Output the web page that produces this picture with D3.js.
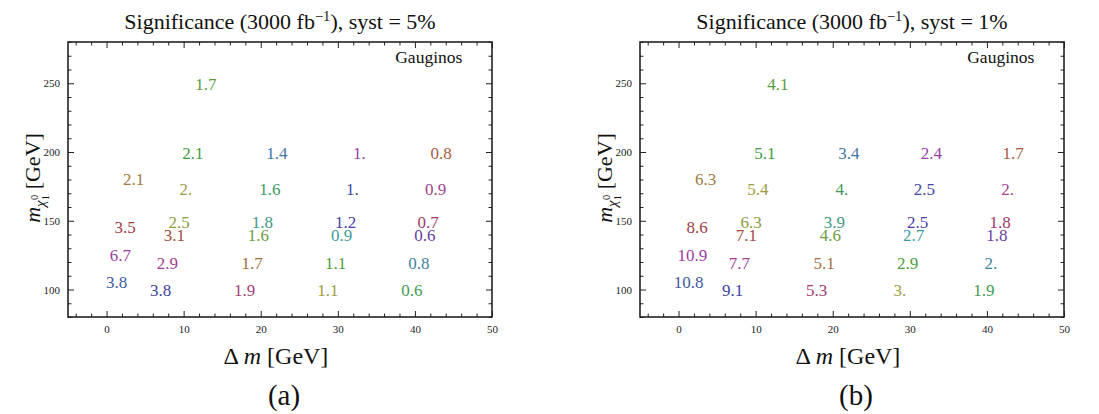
<!DOCTYPE html>
<html>
<head>
<meta charset="utf-8">
<script src="https://cdn.jsdelivr.net/npm/d3@7"></script>
<style>
  html, body { margin: 0; padding: 0; background: #fff; }
  svg text { font-family: "Liberation Serif", "Times New Roman", serif; }
</style>
</head>
<body>
<div id="chart"></div>
<script>
// Punti (Δm, m_chi) come
const dmVals = [12.9, 11.2, 22.1, 32.8, 43.4, 3.5, 10.3, 21.2, 31.9, 42.7,
  2.4, 9.4, 20.2, 31.0, 41.7, 8.8, 19.7, 30.5, 41.3, 1.8, 7.9, 18.9, 29.7, 40.5,
  1.3, 7.0, 17.9, 28.7, 39.6];
const mVals = [249, 199, 199, 199, 199, 180, 173, 173, 173, 173,
  145, 149, 149, 149, 149, 139, 139, 139, 139, 125, 119, 119, 119, 119,
  105, 99, 99, 99, 99];

// Significanza, syst = 5% e syst = 1%
const sig5 = ["1.7", "2.1", "1.4", "1.", "0.8", "2.1", "2.", "1.6", "1.", "0.9",
  "3.5", "2.5", "1.8", "1.2", "0.7", "3.1", "1.6", "0.9", "0.6", "6.7", "2.9", "1.7", "1.1", "0.8",
  "3.8", "3.8", "1.9", "1.1", "0.6"];
const sig1 = ["4.1", "5.1", "3.4", "2.4", "1.7", "6.3", "5.4", "4.", "2.5", "2.",
  "8.6", "6.3", "3.9", "2.5", "1.8", "7.1", "4.6", "2.7", "1.8", "10.9", "7.7", "5.1", "2.9", "2.",
  "10.8", "9.1", "5.3", "3.", "1.9"];

// Colori delle etichette (uguali nei due pannelli)
const labelColors = ["#5c9a3e", "#3f9c44", "#3f76a6", "#9441a8", "#a85c44", "#a07a42", "#a09c44", "#3f9a5e", "#3f48a0", "#a0438f",
  "#a03a4c", "#8c9c3e", "#3e9a80", "#4c3ea0", "#a03a6c", "#a04c3e", "#6e9c3e", "#3e9c9c", "#6a3ea0", "#9c3ea2",
  "#a33e92", "#a0703e", "#4e9c3e", "#3e82a2", "#3e5aa2", "#3e3ea2", "#a33e72", "#a09c3e", "#3e9c54"];

const xMajor = [0, 10, 20, 30, 40, 50];
const xMinor = d3.range(-4, 50, 2).filter(v => v % 10 !== 0);
const yMajor = [100, 150, 200, 250];
const yMinor = d3.range(80, 281, 10).filter(v => v % 50 !== 0);

const titles = ["5%", "1%"];
const tags = ["(a)", "(b)"];

const W = 1099, H = 414;
const svg = d3.select("#chart").append("svg")
  .attr("width", W)
  .attr("height", H);

const panels = [
  { left: 68, values: sig5, title: titles[0], tag: tags[0] },
  { left: 640, values: sig1, title: titles[1], tag: tags[1] }
];
const pw = 424, panelTop = 42, ph = 275;

panels.forEach(p => {
  const g = svg.append("g").attr("transform", `translate(${p.left},${panelTop})`);
  const x = d3.scaleLinear().domain([-5, 50]).range([0, pw]);
  const y = d3.scaleLinear().domain([80, 280]).range([ph, 0]);

  // Tacche interne sui quattro lati
  const addAxis = (axis, tr, vals, size, labels) => {
    const a = g.append("g")
      .attr("transform", tr)
      .call(axis.tickValues(vals).tickSizeInner(-size).tickSizeOuter(0).tickPadding(8)
        .tickFormat(labels ? d3.format("d") : ""));
    a.select(".domain").remove();
    a.selectAll("line").attr("stroke", "#222").attr("stroke-width", 1);
    a.selectAll("text").attr("font-size", 11).attr("fill", "#222");
    return a;
  };
  addAxis(d3.axisBottom(x), `translate(0,${ph})`, xMajor, 6, true);
  addAxis(d3.axisBottom(x), `translate(0,${ph})`, xMinor, 3.5, false);
  addAxis(d3.axisTop(x), "translate(0,0)", xMajor, 6, false);
  addAxis(d3.axisTop(x), "translate(0,0)", xMinor, 3.5, false);
  addAxis(d3.axisLeft(y), "translate(0,0)", yMajor, 6, true);
  addAxis(d3.axisLeft(y), "translate(0,0)", yMinor, 3.5, false);
  addAxis(d3.axisRight(y), `translate(${pw},0)`, yMajor, 6, false);
  addAxis(d3.axisRight(y), `translate(${pw},0)`, yMinor, 3.5, false);

  g.append("rect")
    .attr("width", pw).attr("height", ph)
    .attr("fill", "none").attr("stroke", "#222").attr("stroke-width", 1.6);

  // Valori di significanza
  g.selectAll("text.val")
    .data(p.values)
    .enter().append("text")
    .attr("class", "val")
    .attr("x", (d, i) => x(dmVals[i]))
    .attr("y", (d, i) => y(mVals[i]))
    .attr("text-anchor", "middle")
    .attr("dominant-baseline", "central")
    .attr("font-size", 17)
    .attr("fill", (d, i) => labelColors[i])
    .text(d => d);

  g.append("text")
    .attr("x", x(41.8)).attr("y", 21)
    .attr("text-anchor", "middle")
    .attr("font-size", 17.5)
    .attr("fill", "#111")
    .text("Gauginos");

  // Titolo
  const t = svg.append("text")
    .attr("x", p.left + pw / 2).attr("y", 29)
    .attr("text-anchor", "middle")
    .attr("font-size", 22)
    .attr("fill", "#111");
  t.append("tspan").text("Significance (3000 fb");
  t.append("tspan").attr("font-size", 14.5).attr("dy", -8).text("\u22121");
  t.append("tspan").attr("dy", 8).text(`), syst = ${p.title}`);

  // Etichetta asse x
  const xl = svg.append("text")
    .attr("x", p.left + pw / 2 - 4).attr("y", 364)
    .attr("text-anchor", "middle")
    .attr("font-size", 24)
    .attr("fill", "#111");
  xl.append("tspan").text("\u0394 ");
  xl.append("tspan").attr("font-style", "italic").text("m");
  xl.append("tspan").text(" [GeV]");

  // Etichetta asse y
  const yl = svg.append("text")
    .attr("transform", `translate(${p.left - 28},${panelTop + 136}) rotate(-90)`)
    .attr("text-anchor", "middle")
    .attr("font-size", 22)
    .attr("fill", "#111");
  yl.append("tspan").attr("font-style", "italic").text("m");
  yl.append("tspan").attr("font-style", "italic").attr("font-size", 15).attr("dy", 5).text("\u03c7");
  yl.append("tspan").attr("font-size", 10.5).attr("dy", 4).text("1");
  yl.append("tspan").attr("font-size", 10.5).attr("dx", -5).attr("dy", -11).text("0");
  yl.append("tspan").attr("dy", 2).text(" [GeV]");

  // Sotto-etichetta del pannello
  svg.append("text")
    .attr("x", p.left + pw / 2 + 4).attr("y", 405)
    .attr("text-anchor", "middle")
    .attr("font-size", 29)
    .attr("fill", "#111")
    .text(p.tag);
});
</script>
</body>
</html>
